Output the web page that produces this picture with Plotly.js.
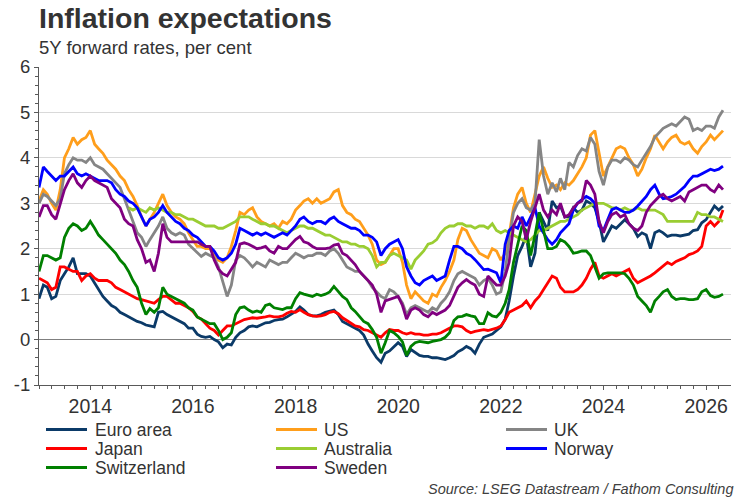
<!DOCTYPE html>
<html><head><meta charset="utf-8">
<script src="https://cdn.plot.ly/plotly-3.0.1.min.js"></script>
<style>html,body{margin:0;padding:0;background:#fff}#chart{width:750px;height:500px}</style>
</head><body><div id="chart"></div>
<script>
// ---- Data (monthly, Jan 2013 .. May 2026), per cent ----
const firstYear = 2013;
const seriesNames = ['Euro area','US','UK','Japan','Australia','Norway','Switzerland','Sweden'];
const euroArea = [
0.9,1.2,1.15,0.9,0.95,1.3,1.45,1.6,1.8,1.45,1.45,1.45,
1.4,1.25,1.1,0.95,0.85,0.75,0.7,0.6,0.55,0.5,0.45,0.4,
0.37,0.32,0.3,0.28,0.6,0.62,0.55,0.5,0.45,0.4,0.35,0.25,
0.25,0.12,0.07,0.05,0.07,0.0,-0.05,-0.18,-0.1,-0.12,0.05,0.15,
0.2,0.28,0.3,0.28,0.33,0.37,0.38,0.42,0.44,0.45,0.5,0.55,
0.62,0.72,0.65,0.55,0.52,0.52,0.55,0.6,0.62,0.65,0.55,0.4,
0.35,0.3,0.25,0.2,0.1,-0.1,-0.25,-0.4,-0.5,-0.3,-0.25,-0.15,
-0.07,-0.15,-0.37,-0.22,-0.29,-0.35,-0.37,-0.37,-0.4,-0.4,-0.42,-0.44,
-0.4,-0.35,-0.27,-0.22,-0.15,-0.2,-0.3,-0.1,0.05,0.08,0.12,0.2,
0.28,0.45,0.85,1.4,1.85,2.05,2.3,1.6,1.9,2.8,2.6,2.4,
3.05,2.9,2.94,2.7,2.7,2.9,2.8,2.85,3.05,3.0,2.9,2.6,
2.15,2.35,2.5,2.45,2.55,2.64,2.55,2.45,2.27,2.35,2.3,2.0,
2.35,2.4,2.35,2.27,2.3,2.3,2.28,2.3,2.32,2.4,2.42,2.57,
2.64,2.8,2.94,2.85,2.94];
const us = [
3.05,3.3,3.2,3.0,2.85,3.3,4.0,4.2,4.45,4.3,4.4,4.45,
4.6,4.3,4.2,4.1,3.95,3.85,3.75,3.6,3.5,3.3,3.15,2.95,
2.7,2.5,2.65,2.8,3.0,3.2,2.95,2.8,2.7,2.65,2.55,2.35,
2.2,2.05,2.05,2.0,2.0,1.9,1.75,1.7,1.8,2.05,2.4,2.8,
2.75,2.85,2.9,2.7,2.6,2.55,2.5,2.55,2.45,2.6,2.55,2.65,
2.85,2.95,3.05,3.1,3.0,3.1,3.0,3.05,3.1,3.25,3.3,2.95,
2.8,2.75,2.65,2.6,2.45,2.3,2.1,1.75,1.65,1.7,1.85,2.0,
2.0,1.7,1.2,0.9,1.05,0.95,0.85,0.8,1.0,0.95,1.15,1.3,
1.5,1.75,2.2,2.45,2.4,2.2,2.05,1.9,1.85,1.8,2.0,1.95,
1.75,1.9,2.3,2.9,3.2,3.35,3.0,2.8,3.2,3.6,3.8,3.55,
3.35,3.4,3.3,3.45,3.4,3.5,3.65,3.8,4.0,4.5,4.6,4.1,
3.6,3.8,4.0,4.2,4.25,4.2,4.0,3.85,3.6,3.75,4.0,4.2,
4.5,4.35,4.2,4.35,4.45,4.5,4.35,4.3,4.35,4.2,4.1,4.25,
4.35,4.5,4.4,4.5,4.6];
const uk = [
3.0,3.2,3.15,3.05,2.95,3.1,3.65,3.85,4.0,3.95,3.95,3.9,
4.0,3.85,3.8,3.75,3.65,3.55,3.45,3.35,3.1,2.85,2.6,2.35,
2.25,2.05,2.2,2.35,2.5,2.7,2.45,2.35,2.3,2.35,2.3,2.1,
2.0,1.9,1.83,1.9,1.85,1.8,1.6,1.3,0.95,1.2,1.75,1.85,
1.8,1.7,1.6,1.7,1.65,1.6,1.75,1.7,1.65,1.7,1.7,1.8,
1.9,1.85,1.8,1.85,1.85,1.9,1.9,1.85,1.95,2.0,1.9,1.75,
1.6,1.55,1.5,1.5,1.4,1.3,1.15,1.05,0.95,0.9,1.1,1.05,
0.95,0.8,0.55,0.7,0.75,0.7,0.65,0.6,0.7,0.65,0.8,0.9,
1.05,1.3,1.45,1.5,1.45,1.4,1.35,1.2,1.3,1.35,1.2,1.0,
1.05,1.5,2.2,2.8,3.0,3.1,2.9,2.85,3.0,4.4,3.6,3.2,
3.45,3.25,3.55,3.3,3.9,3.8,4.05,4.2,4.15,4.45,4.3,3.7,
3.4,3.8,3.95,3.95,3.9,4.0,3.95,3.85,3.8,3.95,4.1,4.25,
4.45,4.55,4.65,4.7,4.75,4.7,4.8,4.9,4.85,4.6,4.65,4.6,
4.7,4.7,4.65,4.9,5.05];
const japan = [
1.35,1.3,1.25,1.1,1.15,1.6,1.6,1.55,1.5,1.5,1.3,1.4,
1.45,1.35,1.3,1.3,1.3,1.25,1.15,1.1,1.05,1.0,0.95,0.9,
0.88,0.85,0.82,0.8,0.88,0.95,0.95,0.88,0.8,0.8,0.75,0.7,
0.62,0.5,0.45,0.35,0.25,0.2,0.1,0.2,0.3,0.3,0.35,0.4,
0.44,0.46,0.48,0.47,0.48,0.5,0.52,0.5,0.5,0.52,0.58,0.62,
0.6,0.66,0.6,0.55,0.52,0.51,0.52,0.55,0.6,0.62,0.57,0.48,
0.42,0.35,0.3,0.28,0.22,0.2,0.15,0.1,0.05,0.15,0.22,0.2,
0.2,0.15,0.12,0.15,0.12,0.12,0.1,0.1,0.12,0.12,0.15,0.2,
0.25,0.3,0.3,0.28,0.2,0.15,0.18,0.2,0.22,0.2,0.22,0.25,
0.3,0.44,0.6,0.65,0.7,0.75,0.85,0.7,0.85,0.95,1.1,1.25,
1.4,1.35,1.15,1.05,1.05,1.05,1.1,1.2,1.35,1.55,1.7,1.4,
1.35,1.4,1.45,1.4,1.45,1.5,1.55,1.35,1.25,1.3,1.35,1.4,
1.47,1.55,1.61,1.7,1.65,1.72,1.76,1.8,1.87,1.9,1.95,2.05,
2.5,2.6,2.5,2.6,2.85];
const australia = [
null,null,null,null,null,null,null,null,null,null,null,null,
null,null,null,null,null,null,null,null,null,2.9,2.85,2.9,
2.85,2.8,2.9,2.85,2.9,2.85,2.8,2.8,2.75,2.75,2.7,2.65,
2.65,2.6,2.55,2.5,2.5,2.5,2.45,2.45,2.5,2.55,2.6,2.7,
2.7,2.7,2.65,2.6,2.55,2.55,2.5,2.5,2.45,2.4,2.35,2.4,
2.45,2.5,2.5,2.45,2.45,2.4,2.35,2.3,2.3,2.25,2.2,2.15,
2.15,2.1,2.1,2.05,2.05,2.0,1.85,1.6,1.7,1.7,1.85,1.9,
1.85,1.8,1.75,1.55,1.75,1.85,1.95,2.1,2.13,2.2,2.35,2.45,
2.5,2.5,2.55,2.55,2.5,2.5,2.45,2.5,2.5,2.45,2.55,2.4,
2.35,2.4,2.35,2.3,2.25,2.2,2.15,2.2,2.3,2.4,2.4,2.45,
2.5,2.55,2.6,2.6,2.65,2.7,2.75,2.85,2.9,2.95,3.0,3.0,
3.0,2.95,2.9,2.9,2.85,2.9,2.85,2.85,2.9,2.85,2.85,2.85,
2.85,2.8,2.75,2.6,2.6,2.6,2.6,2.6,2.6,2.6,2.8,2.75,
2.75,2.7,2.7,2.65,2.6];
const norway = [
3.35,3.8,3.7,3.6,3.5,3.6,3.6,3.7,3.8,3.65,3.6,3.65,
3.6,3.55,3.5,3.5,3.5,3.45,3.3,3.2,3.15,3.05,3.0,2.9,
2.7,2.5,2.65,2.7,2.8,2.95,2.8,2.7,2.6,2.55,2.45,2.4,
2.3,2.25,2.15,2.05,2.05,1.95,1.8,1.75,1.8,1.9,2.1,2.45,
2.4,2.35,2.3,2.35,2.3,2.35,2.3,2.25,2.3,2.35,2.3,2.4,
2.5,2.65,2.7,2.6,2.55,2.6,2.6,2.55,2.65,2.7,2.6,2.55,
2.5,2.45,2.45,2.4,2.3,2.3,2.25,2.15,1.85,2.0,2.1,2.15,
2.2,2.0,1.6,1.4,1.25,1.2,1.3,1.35,1.4,1.3,1.35,1.4,
1.75,2.05,2.05,2.0,1.9,1.85,1.76,1.65,1.54,1.55,1.5,1.47,
1.25,2.1,2.4,2.5,2.45,2.7,2.5,2.7,2.9,2.5,2.35,2.2,
2.1,2.2,2.35,2.45,2.55,2.85,3.0,3.08,3.15,3.1,3.0,2.5,
2.4,2.64,2.86,2.9,2.85,2.8,2.8,2.85,2.94,3.05,3.15,3.3,
3.4,3.2,3.1,3.12,3.15,3.2,3.28,3.37,3.5,3.6,3.6,3.65,
3.7,3.75,3.72,3.75,3.82];
const switzerland = [
1.5,1.85,1.85,1.8,1.75,1.8,2.25,2.45,2.55,2.5,2.4,2.45,
2.6,2.45,2.3,2.2,2.1,2.0,1.9,1.75,1.65,1.5,1.3,1.15,
0.8,0.55,0.68,0.6,0.7,1.15,1.0,0.95,0.9,0.85,0.8,0.7,
0.65,0.5,0.45,0.4,0.35,0.35,0.2,0.0,0.05,0.15,0.55,0.7,
0.72,0.65,0.6,0.63,0.6,0.75,0.78,0.7,0.68,0.66,0.7,0.7,
0.9,1.03,1.0,0.97,0.95,1.0,0.97,1.0,1.05,1.17,1.05,0.95,
0.88,0.7,0.62,0.51,0.4,0.35,0.22,0.05,-0.3,-0.07,0.2,0.15,
0.07,-0.05,-0.35,-0.15,-0.07,-0.04,-0.06,-0.07,-0.04,-0.02,0.0,0.05,
0.15,0.42,0.5,0.51,0.55,0.52,0.5,0.35,0.35,0.59,0.52,0.5,
0.6,0.8,1.1,1.7,2.1,2.5,2.4,1.85,2.3,2.8,2.4,2.0,
2.0,2.05,2.2,2.15,2.05,1.9,1.92,1.95,1.95,1.85,1.6,1.35,
1.45,1.47,1.47,1.47,1.47,1.45,1.35,1.2,0.95,0.85,0.75,0.6,
0.85,0.95,1.05,1.1,0.95,0.88,0.9,0.9,0.88,0.88,0.9,1.05,
1.1,0.97,0.93,0.95,1.0];
const sweden = [
2.7,2.95,2.95,2.75,2.65,3.0,3.3,3.5,3.65,3.45,3.35,3.5,
3.6,3.5,3.45,3.4,3.35,3.1,3.0,2.9,2.65,2.55,2.5,2.2,
2.0,1.7,1.75,1.5,1.9,2.55,2.25,2.15,2.15,2.15,2.15,2.15,
2.15,2.15,2.1,2.05,2.05,1.75,1.55,1.45,1.4,1.55,1.7,2.1,
2.13,2.1,2.05,2.0,2.02,2.05,1.95,1.9,2.05,2.0,2.0,2.1,
2.2,2.27,2.15,2.12,2.05,2.0,2.0,2.0,2.02,2.08,2.1,1.9,
1.85,1.75,1.65,1.5,1.4,1.3,1.2,1.0,0.6,0.85,0.88,0.92,
0.95,0.75,0.45,0.65,0.7,0.65,0.55,0.5,0.6,0.55,0.6,0.65,
0.75,0.95,1.15,1.25,1.32,1.25,1.2,1.0,0.95,1.4,1.3,1.2,
1.2,1.4,1.7,2.5,2.7,2.6,2.2,2.6,2.9,3.2,2.85,2.7,
2.85,2.75,3.0,2.7,2.75,2.9,3.0,3.05,3.5,3.4,3.2,2.6,
2.35,2.6,2.75,2.8,2.7,2.75,2.55,2.45,2.4,2.5,2.8,2.95,
3.05,3.15,3.2,3.1,3.05,3.1,3.15,3.05,3.25,3.3,3.35,3.4,
3.4,3.3,3.25,3.4,3.3];
const yTickVals = [-1,0,1,2,3,4,5,6];
const yTickLabels = ['-1','0','1','2','3','4','5','6'];
const titleText = 'Inflation expectations';
const subtitleText = '5Y forward rates, per cent';
const sourceText = 'Source: LSEG Datastream / Fathom Consulting';

// ---- Styles ----
const seriesValues = [euroArea, us, uk, japan, australia, norway, switzerland, sweden];
const seriesColors = ['#0b3a68','#ff9e1b','#858585','#ff0000','#9acd32','#0000ff','#008000','#800080'];
const FONT = '"Liberation Sans", Arial, sans-serif';
const TXT = '#333333';
const AX = '#595959';

// monthly date axis values
const dates = euroArea.map((_, i) => {
  const y = firstYear + Math.floor(i / 12);
  const m = (i % 12) + 1;
  return y + '-' + String(m).padStart(2, '0') + '-01';
});

const traces = seriesNames.map((name, k) => ({
  type: 'scatter', mode: 'lines', name: name,
  x: dates, y: seriesValues[k],
  line: {color: seriesColors[k], width: 2.8},
  connectgaps: false, hoverinfo: 'skip'
}));

// pixel helpers for the plot frame (left 39, right 731, top 67, bottom 385)
const PL = 39, PR = 731, PT = 67, PB = 385;
const xp = p => (p - PL) / (PR - PL);
const yp = p => (PB - p) / (PB - PT);

// manual legend: 3 columns, row-wise order
const legCols = [[46, 87, 93], [276, 317, 322], [506, 547, 552]];
const legRows = [429.5, 448.5, 467.5];
const shapes = [];
const annotations = [];
seriesNames.forEach((name, k) => {
  const c = legCols[k % 3], r = legRows[Math.floor(k / 3)];
  shapes.push({type: 'line', xref: 'paper', yref: 'paper', x0: xp(c[0]), x1: xp(c[1]), y0: yp(r), y1: yp(r),
    line: {color: seriesColors[k], width: 3}});
  annotations.push({xref: 'paper', yref: 'paper', x: xp(c[2]), y: yp(r), xanchor: 'left', yanchor: 'middle',
    text: name, showarrow: false, font: {family: FONT, size: 17.5, color: TXT}});
});
annotations.push({xref: 'paper', yref: 'paper', x: xp(37), y: yp(47), xanchor: 'left', yanchor: 'middle',
  text: subtitleText, showarrow: false, font: {family: FONT, size: 18.5, color: TXT}});
annotations.push({xref: 'paper', yref: 'paper', x: xp(735), y: yp(489), xanchor: 'right', yanchor: 'middle',
  text: '<i>' + sourceText + '</i>', showarrow: false, font: {family: FONT, size: 14.5, color: '#404040'}});

const layout = {
  width: 750, height: 500,
  margin: {l: PL, r: 750 - PR, t: PT, b: 500 - PB, pad: 0},
  paper_bgcolor: '#ffffff', plot_bgcolor: '#ffffff',
  showlegend: false,
  title: {text: '<b>' + titleText + '</b>', font: {family: FONT, size: 28.5, color: TXT},
    xref: 'container', yref: 'container', x: 39 / 750, xanchor: 'left', y: 1 - 18 / 500, yanchor: 'middle'},
  xaxis: {
    type: 'date', range: ['2013-01-01', '2026-06-27'], autorange: false,
    tickmode: 'linear', tick0: '2014-01-01', dtick: 'M24', tickformat: '%Y',
    ticks: 'outside', ticklen: 4, tickwidth: 1, tickcolor: AX,
    showline: true, linecolor: AX, linewidth: 1, mirror: false,
    showgrid: false, zeroline: false, automargin: false,
    tickfont: {family: FONT, size: 19.5, color: TXT},
    minor: {tickmode: 'linear', tick0: '2013-01-01', dtick: 'M3', ticklen: 3, tickwidth: 1, tickcolor: AX, showgrid: false}
  },
  yaxis: {
    range: [-1, 6], autorange: false,
    tickmode: 'array', tickvals: yTickVals, ticktext: yTickLabels,
    ticks: 'outside', ticklen: 4, tickwidth: 1, tickcolor: AX,
    showline: true, linecolor: AX, linewidth: 1,
    showgrid: true, gridcolor: '#d9d9d9', gridwidth: 1,
    zeroline: true, zerolinecolor: '#7f7f7f', zerolinewidth: 1.5,
    automargin: false,
    tickfont: {family: FONT, size: 18.5, color: TXT},
    minor: {tickmode: 'linear', tick0: -1, dtick: 0.2, ticklen: 3, tickwidth: 1, tickcolor: AX, showgrid: false}
  },
  shapes: shapes,
  annotations: annotations
};

Plotly.newPlot('chart', traces, layout, {staticPlot: true, displayModeBar: false});
</script>
</body></html>
